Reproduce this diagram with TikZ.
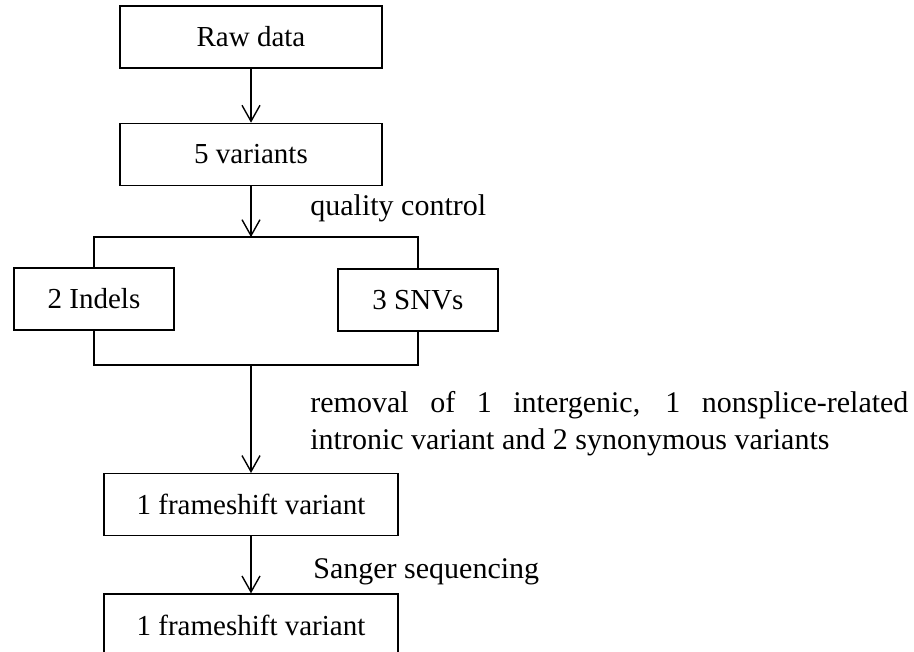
\documentclass[tikz,border=0pt]{standalone}
\usepackage{fontspec}
\setmainfont{Liberation Serif}
\usepackage{xcolor}
\usepackage{tikz}
\usetikzlibrary{shapes,positioning,arrows.meta}

\begin{document}
\begin{tikzpicture}[
    box/.style={rectangle, draw=black, line width=0.7pt, text centered, minimum width=131pt, minimum height=31pt, inner sep=0pt, font=\fontsize{14.5}{17}\selectfont},
    widebox/.style={box, minimum width=147pt},
    sidebox/.style={box, minimum width=80pt},
    lbl/.style={anchor=west, inner sep=0pt, font=\fontsize{15}{18.5}\selectfont},
    arrow/.style={-{Straight Barb[length=8pt, width=9pt]}, black, line width=0.7pt},
    link/.style={black, line width=0.7pt},
    node distance=27pt
]
\useasboundingbox (0,0) rectangle (457pt,-326pt);

\node[box] (raw) at (125.5pt,-18.5pt) {Raw data};
\node[box, below=of raw] (five) {5 variants};
\coordinate[below=25.5pt of five] (split);

\node[sidebox] (indels) at (47pt,-149.5pt) {2 Indels};
\node[sidebox] (snvs) at (209pt,-150pt) {3 SNVs};
\coordinate (merge) at (125.5pt,-182.5pt);

\node[widebox, below=54pt of merge] (frame1) {1 frameshift variant};
\node[widebox, below=28.5pt of frame1] (frame2) {1 frameshift variant};

% labels
\node[lbl] (qc) at (155pt,-104pt) {quality control};
\node[lbl, text width=299pt, align=justify] (removal) at (155pt,-211.75pt)
    {removal of 1 intergenic, 1 nonsplice-related\linebreak intronic variant and 2 synonymous variants};
\node[lbl] (sanger) at (156.5pt,-286pt) {Sanger sequencing};

\draw[arrow] (raw) -- (five);
\draw[arrow] (five) -- (split);
\draw[link] (indels.north) |- (split) -| (snvs.north);
\draw[link] (indels.south) |- (merge) -| (snvs.south);
\draw[arrow] (merge) -- (frame1);
\draw[arrow] (frame1) -- (frame2);

\end{tikzpicture}
\end{document}
